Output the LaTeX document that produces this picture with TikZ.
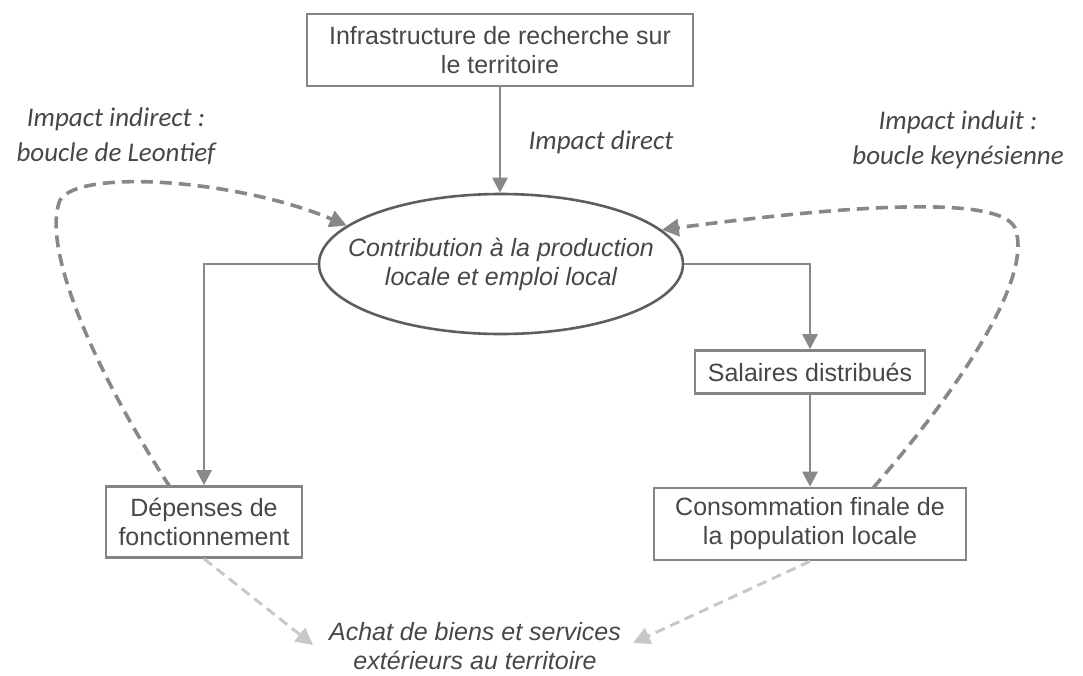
\documentclass[tikz,border=0pt]{standalone}
\usepackage{fontspec}
\setmainfont{Liberation Sans}
\newfontfamily\calfont{Carlito}
\usetikzlibrary{arrows.meta,shapes.geometric}
\definecolor{txt}{HTML}{474747}
\definecolor{boxc}{HTML}{858585}
\definecolor{ellc}{HTML}{5E5E5E}
\definecolor{lnc}{HTML}{888888}
\definecolor{lightc}{HTML}{C8C8C8}
\tikzset{
  box/.style={draw=boxc, line width=2.6pt, rectangle, align=center, text=txt,
    font=\fontsize{25}{29}\selectfont, inner sep=0pt},
  lab/.style={align=center, text=txt, font=\calfont\itshape\fontsize{27}{35}\selectfont, inner sep=0pt},
  conn/.style={draw=lnc, line width=2.8pt, -{Triangle[length=15pt,width=15pt]}},
  loop/.style={draw=lnc, line width=3.6pt, dash pattern=on 12pt off 7pt, -{Triangle[length=17pt,width=17pt]}},
  light/.style={draw=lightc, line width=3pt, dash pattern=on 10pt off 6pt, -{Triangle[length=17pt,width=17pt]}}
}
\begin{document}
\begin{tikzpicture}[x=1pt,y=-1pt]
\useasboundingbox (0,0) rectangle (1083,675);
\node[box, minimum width=386pt, minimum height=72pt] (top) at (500,50) {Infrastructure de recherche sur\\le territoire};
\node[ellipse, draw=ellc, line width=2.6pt, minimum width=364pt, minimum height=140pt, inner sep=0pt] (ell) at (501,264) {};
\node[align=center, text=txt, font=\itshape\fontsize{25}{29}\selectfont, inner sep=0pt] (ellt) at (ell.center) {Contribution à la production\\locale et emploi local};
\node[box, minimum width=196pt, minimum height=71pt] (dep) at (204,522) {Dépenses de\\fonctionnement};
\node[box, minimum width=230pt, minimum height=43pt] (sal) at (810,372) {Salaires distribués};
\node[box, minimum width=312pt, minimum height=72pt] (cons) at (810,524) {Consommation finale de\\la population locale};
\node[align=center, text=txt, font=\itshape\fontsize{25}{29}\selectfont, inner sep=0pt] (ach) at (475,646) {Achat de biens et services\\extérieurs au territoire};
\node[lab] (ldir) at (601,142) {Impact direct};
\node[lab] (lind) at (116,136) {Impact indirect :\\boucle de Leontief};
\node[lab] (lkey) at (958,140) {Impact induit :\\boucle keynésienne};
\coordinate (tl) at (313,645);
\coordinate (tr) at (633,643);
\coordinate (ls) at (170,487);
\coordinate (rs) at (873,488);
\draw[conn] (top.south) -- (top.south |- ell.north);
\draw[conn] (ell.west) -| (dep.north);
\draw[conn] (ell.east) -| (sal.north);
\draw[conn] (sal.south) -- (cons.north);
\draw[loop] (ls) .. controls (100,380) and (40,250) .. (60,200) .. controls (80,168) and (240,180) .. (ell.166);
\draw[loop] (rs) .. controls (950,400) and (1035,280) .. (1015,228) .. controls (1000,195) and (850,205) .. (ell.12);
\draw[light] (dep.south) -- (tl);
\draw[light] (cons.south) -- (tr);
\end{tikzpicture}
\end{document}
